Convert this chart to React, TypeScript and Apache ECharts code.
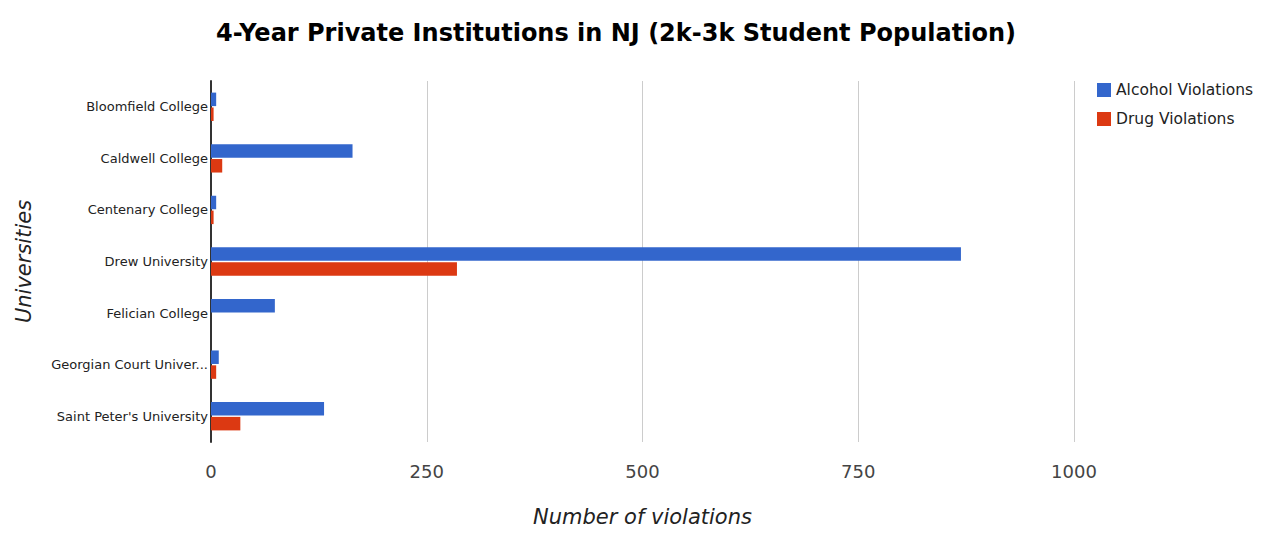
import React, { useEffect, useRef } from "react";
import * as echarts from "echarts";

const categories = [
  "Bloomfield College",
  "Caldwell College",
  "Centenary College",
  "Drew University",
  "Felician College",
  "Georgian Court University",
  "Saint Peter's University",
];
const alcoholViolations = [6, 164, 6, 869, 74, 9, 131];
const drugViolations = [3, 13, 3, 285, 0, 6, 34];
const xTicks = [0, 250, 500, 750, 1000];

const FONT = "'DejaVu Sans', sans-serif";

export default function App() {
  const ref = useRef<HTMLDivElement>(null);
  useEffect(() => {
    if (!ref.current) return;
    const chart = echarts.init(ref.current, null, { renderer: "svg" });
    chart.setOption({
      animation: false,
      backgroundColor: "#ffffff",
      title: {
        text: "4-Year Private Institutions in NJ (2k-3k Student Population)",
        left: 611,
        textAlign: "center",
        top: 16,
        textStyle: {
          fontFamily: FONT,
          fontSize: 24,
          fontWeight: "bold",
          color: "#000",
        },
      },
      legend: {
        orient: "vertical",
        left: 1092,
        top: 77,
        itemWidth: 14,
        itemHeight: 14,
        itemGap: 13,
        icon: "rect",
        textStyle: {
          fontFamily: FONT,
          fontSize: 15.5,
          color: "#222",
        },
        data: ["Alcohol Violations", "Drug Violations"],
      },
      grid: { left: 211, right: 201, top: 81, bottom: 92, containLabel: false },
      xAxis: {
        type: "value",
        min: xTicks[0],
        max: xTicks[xTicks.length - 1],
        interval: 250,
        name: "Number of violations",
        nameLocation: "middle",
        nameGap: 64,
        nameTextStyle: {
          fontFamily: FONT,
          fontSize: 21,
          fontStyle: "italic",
          color: "#222",
        },
        axisLine: { show: false },
        axisTick: { show: false },
        axisLabel: {
          margin: 20,
          fontFamily: FONT,
          fontSize: 18,
          color: "#444",
          formatter: (v: number) => String(v),
        },
        splitLine: { show: true, lineStyle: { color: "#cccccc", width: 1 } },
      },
      yAxis: {
        type: "category",
        data: categories,
        inverse: true,
        name: "Universities",
        nameLocation: "middle",
        nameGap: 177,
        nameTextStyle: {
          fontFamily: FONT,
          fontSize: 21,
          fontStyle: "italic",
          color: "#222",
        },
        axisLine: { show: true, lineStyle: { color: "#333", width: 2 } },
        axisTick: { show: false },
        axisLabel: {
          margin: 3,
          fontFamily: FONT,
          fontSize: 13,
          color: "#222",
          width: 164,
          overflow: "truncate",
          ellipsis: "...",
        },
        splitLine: { show: false },
      },
      series: [
        {
          name: "Alcohol Violations",
          type: "bar",
          data: alcoholViolations,
          itemStyle: { color: "#3366cc" },
          barGap: "10%",
          barCategoryGap: "45%",
        },
        {
          name: "Drug Violations",
          type: "bar",
          data: drugViolations,
          itemStyle: { color: "#dc3912" },
          barGap: "10%",
          barCategoryGap: "45%",
        },
      ],
    });
    return () => chart.dispose();
  }, []);
  return <div ref={ref} style={{ width: 1275, height: 534, margin: -8 }} />;
}
